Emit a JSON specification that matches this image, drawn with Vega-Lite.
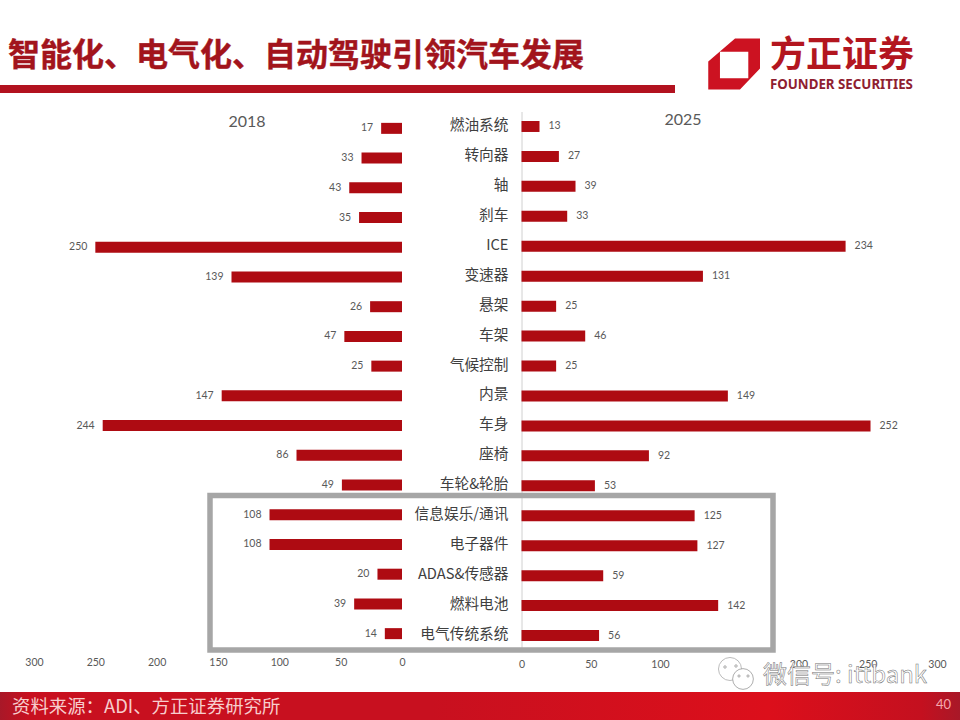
{
"$schema":"https://vega.github.io/schema/vega-lite/v6.json",
"width":960,"height":720,"padding":0,"autosize":{"type":"none"},"background":"#ffffff",
"config":{"view":{"stroke":null},"axis":{"grid":false,"title":null,"ticks":false}},
"datasets":{
"d2018":[{"part":"燃油系统","value":17},{"part":"转向器","value":33},{"part":"轴","value":43},{"part":"刹车","value":35},{"part":"ICE","value":250},{"part":"变速器","value":139},{"part":"悬架","value":26},{"part":"车架","value":47},{"part":"气候控制","value":25},{"part":"内景","value":147},{"part":"车身","value":244},{"part":"座椅","value":86},{"part":"车轮&轮胎","value":49},{"part":"信息娱乐/通讯","value":108},{"part":"电子器件","value":108},{"part":"ADAS&传感器","value":20},{"part":"燃料电池","value":39},{"part":"电气传统系统","value":14}],
"d2025":[{"part":"燃油系统","value":13},{"part":"转向器","value":27},{"part":"轴","value":39},{"part":"刹车","value":33},{"part":"ICE","value":234},{"part":"变速器","value":131},{"part":"悬架","value":25},{"part":"车架","value":46},{"part":"气候控制","value":25},{"part":"内景","value":149},{"part":"车身","value":252},{"part":"座椅","value":92},{"part":"车轮&轮胎","value":53},{"part":"信息娱乐/通讯","value":125},{"part":"电子器件","value":127},{"part":"ADAS&传感器","value":59},{"part":"燃料电池","value":142},{"part":"电气传统系统","value":56}]
},
"resolve":{"scale":{"x":"independent","y":"independent"},"axis":{"x":"independent","y":"independent"}},
"layer":[
{"data":{"values":[{}]},"mark":{"type":"rect","fill":{"x1":0,"x2":1,"y1":0,"y2":0,"gradient":"linear","stops":[{"offset":0,"color":"#A81828"},{"offset":0.03,"color":"#C8101F"},{"offset":0.45,"color":"#C8101F"},{"offset":0.8,"color":"#DC0F1B"},{"offset":0.96,"color":"#C4101F"},{"offset":1,"color":"#A81828"}]}},"encoding":{"x":{"value":0},"x2":{"value":960},"y":{"value":692},"y2":{"value":720}}},
{"data":{"values":[{}]},"mark":{"type":"rect","fill":"#B2121F"},"encoding":{"x":{"value":0},"x2":{"value":675},"y":{"value":85},"y2":{"value":93}}},
{"data":{"values":[{}]},"mark":{"type":"text","align":"left","baseline":"middle","font":"Noto Sans CJK SC","fontWeight":"bold","fontSize":32,"fill":"#A2141C","stroke":"#A2141C","strokeWidth":0.4},"encoding":{"x":{"value":8},"y":{"value":56},"text":{"value":"智能化、电气化、自动驾驶引领汽车发展"}}},
{"data":{"values":[{}]},"mark":{"type":"point","filled":true,"fill":"#CC1221","opacity":1,"size":2704,"shape":"M0.04,-0.97L1,-0.97L1,0.18L0.23,0.99L-0.99,0.99L-0.99,-0.08ZM-0.54,-0.46L-0.54,0.56L0.55,0.56L0.55,-0.46Z"},"encoding":{"x":{"value":734},"y":{"value":63.7}}},
{"data":{"values":[{}]},"mark":{"type":"text","align":"left","baseline":"middle","font":"Noto Sans CJK SC","fontWeight":"bold","fontSize":36,"fill":"#B3161F"},"encoding":{"x":{"value":770},"y":{"value":56},"text":{"value":"方正证券"}}},
{"data":{"values":[{}]},"mark":{"type":"text","align":"left","baseline":"middle","font":"Noto Sans","fontWeight":"bold","fontSize":13.3,"fill":"#8E2030"},"encoding":{"x":{"value":770},"y":{"value":84.5},"text":{"value":"FOUNDER SECURITIES"}}},
{"data":{"values":[{}]},"mark":{"type":"text","align":"center","baseline":"middle","font":"Lato","fontSize":16,"fill":"#595959"},"encoding":{"x":{"value":247},"y":{"value":122},"text":{"value":"2018"}}},
{"data":{"values":[{}]},"mark":{"type":"text","align":"center","baseline":"middle","font":"Lato","fontSize":16,"fill":"#595959"},"encoding":{"x":{"value":683},"y":{"value":120},"text":{"value":"2025"}}},
{"data":{"name":"d2018"},"mark":{"type":"bar","height":11,"fill":"#AE0B12"},"encoding":{
"y":{"field":"part","type":"nominal","sort":null,"axis":null,"scale":{"type":"band","range":[113.5,648.5],"paddingInner":0,"paddingOuter":0}},
"x":{"field":"value","type":"quantitative","stack":null,"scale":{"domain":[0,300],"range":[402,34],"nice":false},"axis":{"values":[0,50,100,150,200,250,300],"orient":"bottom","offset":-65,"domain":false,"labelPadding":2,"labelFont":"Lato","labelFontSize":10.5,"labelColor":"#595959","labelFlush":false,"labelOverlap":false}}}},
{"data":{"name":"d2018"},"mark":{"type":"text","align":"right","baseline":"middle","dx":-8,"font":"Lato","fontSize":10.5,"fill":"#595959"},"encoding":{
"y":{"field":"part","type":"nominal","sort":null,"axis":null,"scale":{"type":"band","range":[113.5,648.5],"paddingInner":0,"paddingOuter":0}},
"x":{"field":"value","type":"quantitative","stack":null,"axis":null,"scale":{"domain":[0,300],"range":[402,34],"nice":false}},
"text":{"field":"value","type":"quantitative"}}},
{"data":{"name":"d2025"},"mark":{"type":"bar","height":11,"fill":"#AE0B12"},"encoding":{
"y":{"field":"part","type":"nominal","sort":null,"scale":{"type":"band","range":[111.5,650.5],"paddingInner":0,"paddingOuter":0},"axis":{"orient":"left","offset":-521.5,"domain":true,"domainColor":"#D0D0D0","domainWidth":1,"labelPadding":13.5,"labelOffset":-0.5,"labelFont":"Noto Sans CJK SC","labelFontSize":14.7,"labelColor":"#404040","labelLimit":300,"labelOverlap":false}},
"x":{"field":"value","type":"quantitative","stack":null,"scale":{"domain":[0,300],"range":[521.5,937],"nice":false},"axis":{"values":[0,50,100,150,200,250,300],"orient":"bottom","offset":-63,"domain":false,"labelPadding":2,"labelFont":"Lato","labelFontSize":10.5,"labelColor":"#595959","labelFlush":false,"labelOverlap":false}}}},
{"data":{"name":"d2025"},"mark":{"type":"text","align":"left","baseline":"middle","dx":9,"font":"Lato","fontSize":10.5,"fill":"#595959"},"encoding":{
"y":{"field":"part","type":"nominal","sort":null,"axis":null,"scale":{"type":"band","range":[111.5,650.5],"paddingInner":0,"paddingOuter":0}},
"x":{"field":"value","type":"quantitative","stack":null,"axis":null,"scale":{"domain":[0,300],"range":[521.5,937],"nice":false}},
"text":{"field":"value","type":"quantitative"}}},
{"data":{"values":[{}]},"mark":{"type":"rect","fillOpacity":0,"stroke":"#A6A6A6","strokeWidth":5.5},"encoding":{"x":{"value":210},"x2":{"value":773},"y":{"value":495.5},"y2":{"value":650}}},
{"data":{"values":[{}]},"mark":{"type":"text","align":"left","baseline":"middle","font":"Noto Sans CJK SC","fontSize":18.4,"fill":"#F7CDCD"},"encoding":{"x":{"value":12},"y":{"value":706.5},"text":{"value":"资料来源：ADI、方正证券研究所"}}},
{"data":{"values":[{}]},"mark":{"type":"text","align":"right","baseline":"middle","font":"Lato","fontSize":13,"fill":"#F6A8AE"},"encoding":{"x":{"value":951},"y":{"value":705},"text":{"value":"40"}}},
{"data":{"values":[{}]},"mark":{"type":"point","filled":false,"fill":"#ffffff","fillOpacity":1,"stroke":"#AAAAAA","strokeWidth":0.8,"opacity":1,"shape":"circle","size":530},"encoding":{"x":{"value":730},"y":{"value":669}}},
{"data":{"values":[{}]},"mark":{"type":"point","filled":false,"fill":"#ffffff","fillOpacity":1,"stroke":"#999999","strokeWidth":0.8,"opacity":1,"shape":"circle","size":430},"encoding":{"x":{"value":743},"y":{"value":679}}},
{"data":{"values":[{}]},"mark":{"type":"point","filled":false,"stroke":"#888888","strokeWidth":0.7,"opacity":1,"shape":"circle","size":6},"encoding":{"x":{"value":725},"y":{"value":667}}},
{"data":{"values":[{}]},"mark":{"type":"point","filled":false,"stroke":"#888888","strokeWidth":0.7,"opacity":1,"shape":"circle","size":6},"encoding":{"x":{"value":736},"y":{"value":666}}},
{"data":{"values":[{}]},"mark":{"type":"point","filled":false,"stroke":"#888888","strokeWidth":0.7,"opacity":1,"shape":"circle","size":5},"encoding":{"x":{"value":739},"y":{"value":676}}},
{"data":{"values":[{}]},"mark":{"type":"point","filled":false,"stroke":"#888888","strokeWidth":0.7,"opacity":1,"shape":"circle","size":5},"encoding":{"x":{"value":748},"y":{"value":676}}},
{"data":{"values":[{}]},"mark":{"type":"text","align":"left","baseline":"middle","font":"Noto Sans CJK SC","fontSize":24,"fill":"#ffffff","stroke":"#707070","strokeWidth":0.5},"encoding":{"x":{"value":763},"y":{"value":676},"text":{"value":"微信号: ittbank"}}}
]
}
